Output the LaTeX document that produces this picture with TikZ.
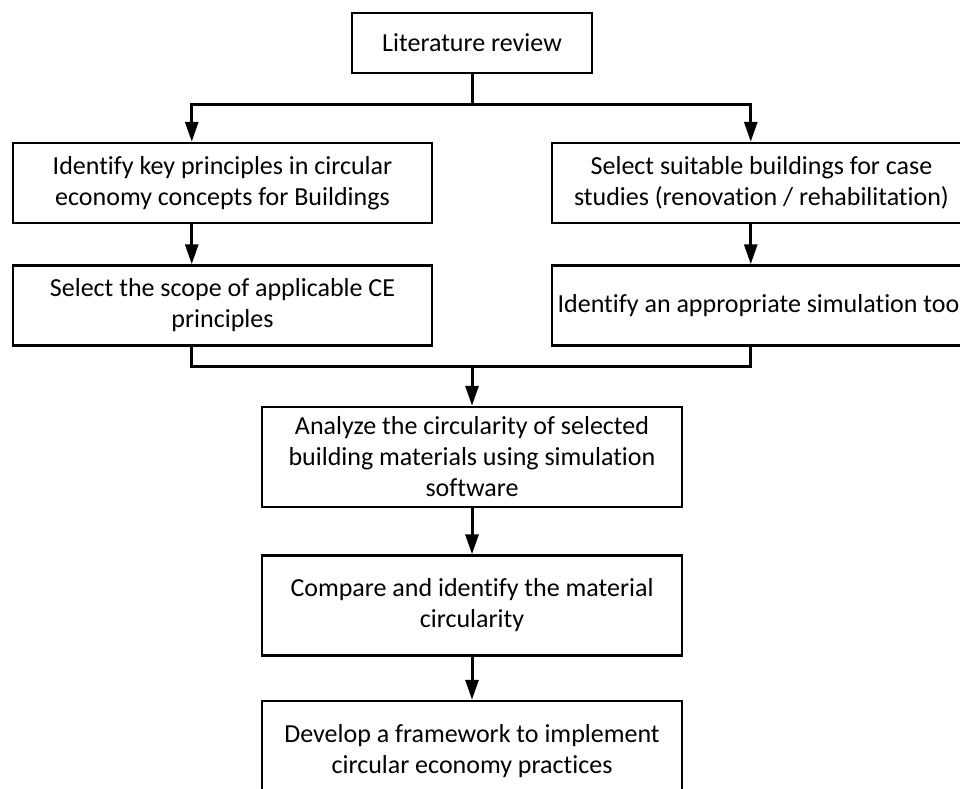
\documentclass[tikz,border=0pt]{standalone}
\usepackage{fontspec}
\setmainfont{Carlito}[Ligatures=NoCommon]
\usetikzlibrary{arrows.meta,positioning,calc}

\begin{document}
\begin{tikzpicture}[x=1pt, y=-1pt, >={Triangle[length=20pt,width=13pt]},
			procbox/.style={draw, rectangle, line width=2.5pt, align=center, inner sep=0pt,
				font=\fontsize{26}{31}\selectfont, minimum width=419pt, minimum height=80pt},
			midbox/.style={procbox, minimum width=420pt, minimum height=100pt},
			flowline/.style={line width=3pt, -},
			flowarrow/.style={flowline, ->}
			]
			\useasboundingbox (0,0) rectangle (960,788);
			\clip (0,0) rectangle (960,788);
			\node[procbox, minimum width=240pt, minimum height=60pt](lit) at (472,43) {Literature review};
			\node[procbox](keyp) at (222.5,183) {Identify key principles in circular\\economy concepts for Buildings};
			\node[procbox](bldg) at (761.5,183) {Select suitable buildings for case\\studies (renovation / rehabilitation)};
			\node[procbox](scope) [below = 40pt of keyp] {Select the scope of applicable CE\\principles};
			\node[procbox](tool) [below = 40pt of bldg] {Identify an appropriate simulation tool};
			\node[midbox](anlz) at (472,457) {Analyze the circularity of selected\\building materials using simulation\\software};
			\node[midbox](cmpr) [below = 46pt of anlz] {Compare and identify the material\\circularity};
			\node[midbox](frmw) [below = 43pt of cmpr] {Develop a framework to implement\\circular economy practices};
			
			\coordinate (split) at ($(lit.south)+(0,30)$);
			\coordinate (merge) at ($(scope.south)+(0,20)$);
			\coordinate (merge) at (anlz.north |- merge);
			
			\draw [flowline] (lit.south) -- (split);
			\draw [flowarrow] (split) -| ([xshift=180pt]keyp.north west);
			\draw [flowarrow] (split) -| ([xshift=200pt]bldg.north west);
			\draw [flowarrow] ([xshift=180pt]keyp.south west) -- ([xshift=180pt]scope.north west);
			\draw [flowarrow] ([xshift=200pt]bldg.south west) -- ([xshift=200pt]tool.north west);
			\draw [flowline] ([xshift=180pt]scope.south west) |- (merge) -| ([xshift=200pt]tool.south west);
			\draw [flowarrow] (merge) -- (anlz.north);
			\draw [flowarrow] (anlz) -- (cmpr);
			\draw [flowarrow] (cmpr) -- (frmw);
			\end{tikzpicture}
\end{document}
